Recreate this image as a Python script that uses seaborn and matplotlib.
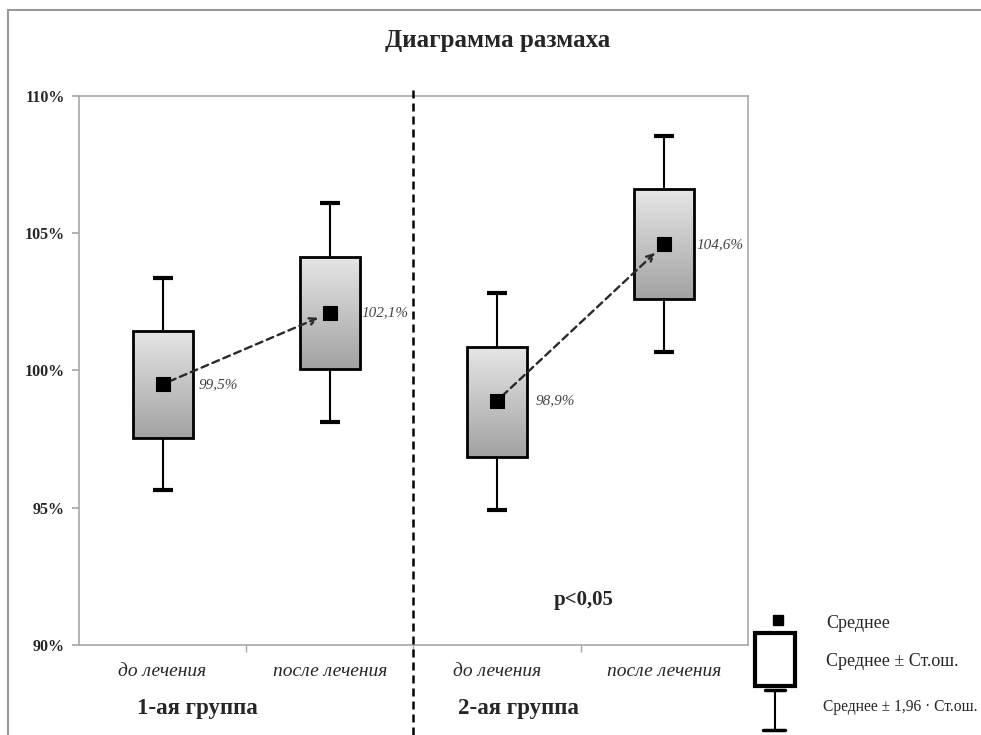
import numpy as np
import pandas as pd
import matplotlib
matplotlib.use("Agg")
import matplotlib.pyplot as plt
import seaborn as sns
from matplotlib.colors import LinearSegmentedColormap
from matplotlib.patches import Rectangle
from matplotlib.lines import Line2D
from matplotlib.ticker import FixedLocator

# ---- data ----
categories = ["до лечения", "после лечения", "до лечения", "после лечения"]
groups = ["1-ая группа", "2-ая группа"]
means = [99.5, 102.1, 98.9, 104.6]
se_low = [97.55, 100.05, 96.85, 102.6]
se_high = [101.45, 104.15, 100.85, 106.6]
ci_low = [95.65, 98.12, 94.92, 100.67]
ci_high = [103.37, 106.1, 102.82, 108.54]
mean_labels = ["99,5%", "102,1%", "98,9%", "104,6%"]
yticks = [90, 95, 100, 105, 110]
p_text = "p<0,05"
title = "Диаграмма размаха"
legend_labels = ["Среднее", "Среднее ± Ст.ош.", "Среднее ± 1,96 · Ст.ош."]

sns.set_theme(style="white")
plt.rcParams['font.family'] = ['Liberation Serif', 'DejaVu Serif']

fig = plt.figure(figsize=(9.81, 7.35), dpi=100)
ax = fig.add_axes([79/981, 1-645/735, (748-79)/981, 549/735])

pos = np.arange(len(categories))
df = pd.DataFrame({"pos": pos, "mean": means})

w = 0.36
cmap = LinearSegmentedColormap.from_list("g", ["#e6e6e6", "#a2a2a2"])
grad = np.linspace(0, 1, 256).reshape(-1, 1)
for i, p in enumerate(pos):
    ax.errorbar(p, means[i], yerr=[[means[i]-ci_low[i]], [ci_high[i]-means[i]]],
                fmt='none', ecolor='black', elinewidth=1.5, capsize=7, capthick=3, zorder=2)
    ax.imshow(grad, extent=[p-w/2, p+w/2, se_low[i], se_high[i]], origin='upper',
              cmap=cmap, aspect='auto', zorder=3)
    ax.add_patch(Rectangle((p-w/2, se_low[i]), w, se_high[i]-se_low[i], fill=False,
                           ec='black', lw=2, zorder=4))

sns.scatterplot(data=df, x="pos", y="mean", marker='s', s=95, color='black',
                edgecolor='black', ax=ax, zorder=6, legend=False)

for a, b in [(0, 1), (2, 3)]:
    ax.annotate('', xy=(pos[b], means[b]), xytext=(pos[a], means[a]),
                arrowprops=dict(arrowstyle='->', linestyle=(0, (3, 2)), lw=1.7,
                                color='#2a2a2a', shrinkA=5, shrinkB=9), zorder=5)

label_dx = [26, 23, 28, 23]
for i, p in enumerate(pos):
    ax.annotate(mean_labels[i], (p, means[i]), xytext=(label_dx[i], 0),
                textcoords='offset points', ha='left', va='center', style='italic',
                color='#444444', fontsize=11, zorder=7)

ax.set_xlim(-0.5, len(categories)-0.5)
ax.set_ylim(yticks[0], yticks[-1])
ax.set_xlabel("")
ax.set_ylabel("")
for s in ax.spines.values():
    s.set_color('#a8a8a8')
    s.set_linewidth(1.2)
ax.set_yticks(yticks)
ax.set_yticklabels([f"{v}%" for v in yticks], fontweight='bold', fontsize=11.5)
ax.set_xticks(pos)
ax.set_xticklabels(categories, style='italic', fontsize=14)
ax.xaxis.set_minor_locator(FixedLocator(pos[:-1] + 0.5))
ax.tick_params(axis='x', which='major', length=0, pad=13)
ax.tick_params(axis='x', which='minor', bottom=True, length=5, color='#a8a8a8', direction='out')
ax.tick_params(axis='y', which='major', left=True, length=5, color='#a8a8a8', direction='out', pad=5)

# divider
ax.plot([1.5, 1.5], [1.011, -0.17], transform=ax.get_xaxis_transform(), clip_on=False,
        color='black', lw=1.8, linestyle=(0, (3.2, 2)), zorder=8)

# group labels
for gx, g in zip([0.21, 2.13], groups):
    ax.text(gx, -0.115, g, transform=ax.get_xaxis_transform(), ha='center', va='center',
            fontsize=16.5, fontweight='bold')

ax.text(2.52, 91.65, p_text, ha='center', va='center', fontsize=15, fontweight='bold')

fig.text(498/981, 1-40/735, title, ha='center', va='center', fontsize=18, fontweight='bold')

# frame
fig.add_artist(Line2D([8/981, 1], [1-10/735]*2, color='#999999', lw=1.5))
fig.add_artist(Line2D([8/981]*2, [0, 1-10/735], color='#999999', lw=1.5))

# legend key
lax = fig.add_axes([750/981, 0, 231/981, 130/735])
lax.set_xlim(0, 231)
lax.set_ylim(130, 0)
lax.axis('off')
lax.patch.set_alpha(0)
lax.plot([28], [15], marker='s', ms=7, color='black', ls='none')
lax.add_patch(Rectangle((5, 28), 40, 53, fill=False, ec='black', lw=3))
lax.plot([25, 25], [85, 125], color='black', lw=1.5)
lax.plot([15, 35], [85, 85], color='black', lw=2.5)
lax.plot([13, 35], [125, 125], color='black', lw=2.5)
for ty, t, fs, tx in zip([18, 57, 102], legend_labels, [13, 13, 11.2], [76, 76, 73]):
    lax.text(tx, ty, t, ha='left', va='center', fontsize=fs, clip_on=False)

fig.savefig("out.png", dpi=100)
